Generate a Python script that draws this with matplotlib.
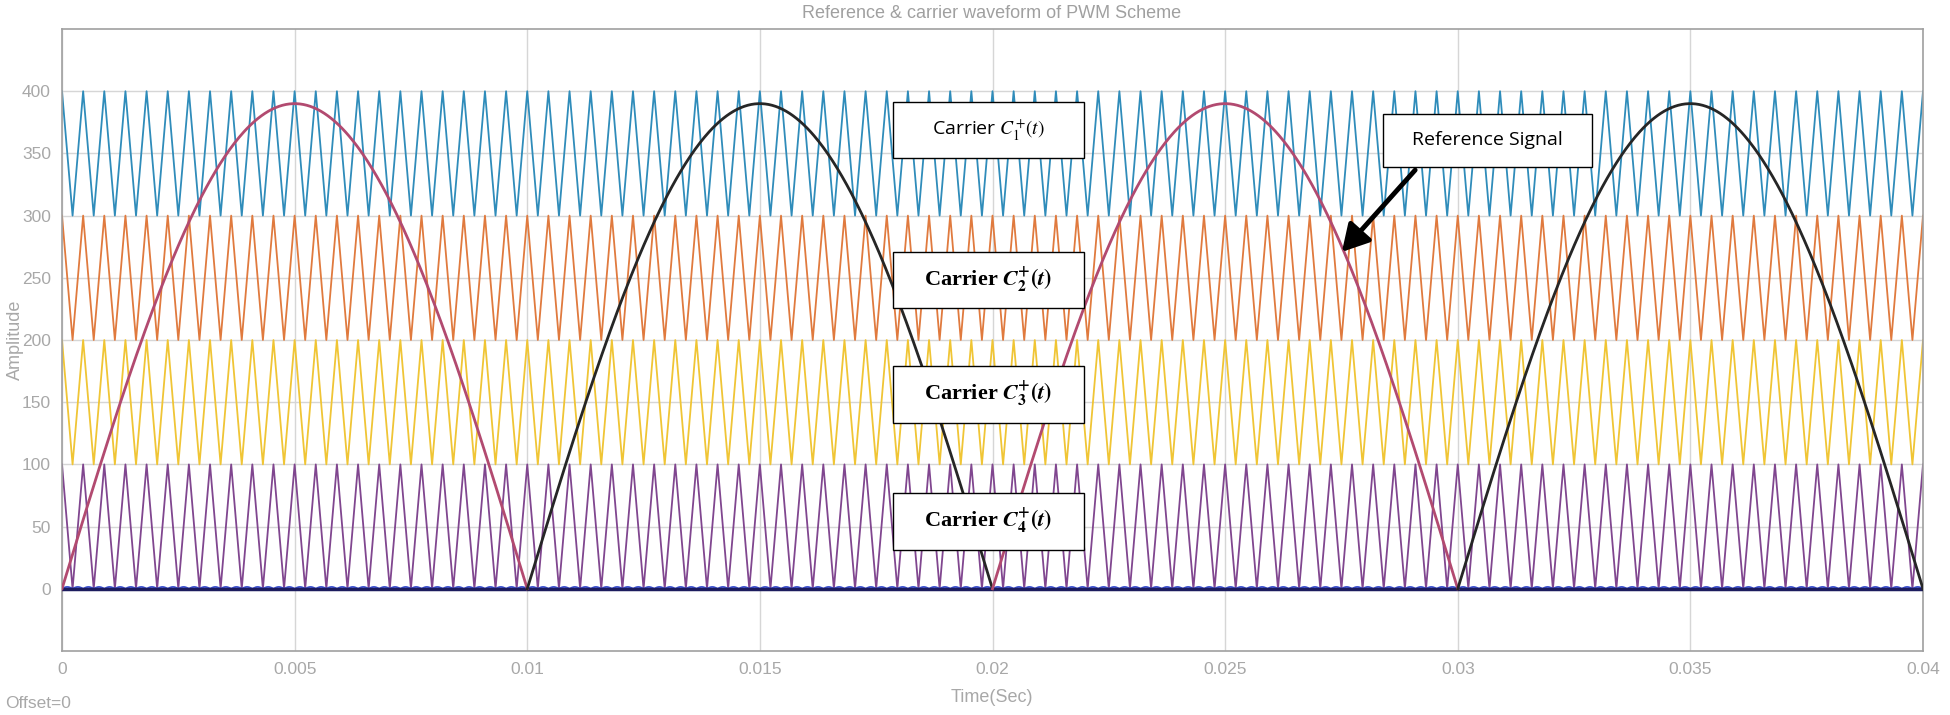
import numpy as np
import matplotlib
matplotlib.use("Agg")
import matplotlib.pyplot as plt
from matplotlib.patches import Rectangle, FancyArrowPatch

plt.rcParams["mathtext.fontset"] = "stix"
plt.rcParams["font.family"] = ["Liberation Sans", "DejaVu Sans"]

# ---- data ----
carrier_offsets = [300, 200, 100, 0]          # C1..C4 lower level
carrier_amplitude = 100
carrier_freq = 2200                            # Hz (11 periods per 5 ms)
carrier_colors = ["#2f8cba", "#e07a3e", "#f0c535", "#80468f"]
ref_peak = 390
ref_freq = 50                                  # Hz
ref_half_colors = ["#b24a70", "#262626", "#b24a70", "#262626"]
t_end = 0.04
xticks = [0, 0.005, 0.01, 0.015, 0.02, 0.025, 0.03, 0.035, 0.04]
xticklabels = ["0", "0.005", "0.01", "0.015", "0.02", "0.025", "0.03", "0.035", "0.04"]
yticks = [0, 50, 100, 150, 200, 250, 300, 350, 400]
ripple_amp = 1.5

W, H = 1950, 715
fig = plt.figure(figsize=(W / 100, H / 100), dpi=100)
L, R, T, B = 62, 1923, 29, 651
ax = fig.add_axes([L / W, 1 - B / H, (R - L) / W, (B - T) / H])

# carriers: triangle vertices every half period, peaks at t = k/f
half = 1.0 / carrier_freq / 2
n_half = int(round(t_end / half))
tv = np.arange(n_half + 1) * half
for off, col in zip(carrier_offsets, carrier_colors):
    vals = np.where(np.arange(n_half + 1) % 2 == 0, off + carrier_amplitude, off)
    ax.plot(tv, vals, color=col, lw=1.3, zorder=2)

# zero-level lines
ts = np.linspace(0, t_end, 8000)
ax.plot(ts, ripple_amp * np.abs(np.sin(2 * np.pi * carrier_freq * ts)), color="#3a4fd0", lw=1.3, zorder=3)
ax.plot([0, t_end], [0, 0], color="#1c1c5e", lw=2.5, zorder=3)

# reference: rectified sine, alternating colour per half cycle
hc = 1.0 / ref_freq / 2
for i, col in enumerate(ref_half_colors):
    tt = np.linspace(i * hc, (i + 1) * hc, 400)
    ax.plot(tt, np.abs(ref_peak * np.sin(2 * np.pi * ref_freq * tt)), color=col, lw=2.0, zorder=4)

ax.set_xlim(0, t_end)
ax.set_ylim(-50, 450)
ax.set_xticks(xticks)
ax.set_xticklabels(xticklabels)
ax.set_yticks(yticks)
ax.grid(True, color="#d6d6d6", lw=1.0)
ax.set_axisbelow(True)
ax.tick_params(length=0, labelcolor="#a8a8a8", labelsize=12.5, pad=8)
for s in ax.spines.values():
    s.set_color("#a0a0a0")
    s.set_linewidth(1.2)

fig.text(992 / W, 1 - 14 / H, "Reference & carrier waveform of PWM Scheme", ha="center", va="center",
         color="#a0a0a0", fontsize=13)
fig.text(992 / W, 1 - 698 / H, "Time(Sec)", ha="center", va="center", color="#a8a8a8", fontsize=13)
fig.text(15 / W, 1 - 340 / H, "Amplitude", ha="center", va="center", rotation=90, color="#a8a8a8", fontsize=13)
fig.text(5 / W, 1 - 703 / H, "Offset=0", ha="left", va="center", color="#a8a8a8", fontsize=12.5)

def box(x0, y0, x1, y1):
    fig.add_artist(Rectangle((x0 / W, 1 - y1 / H), (x1 - x0) / W, (y1 - y0) / H,
                             transform=fig.transFigure, facecolor="white", edgecolor="black",
                             lw=1.0, zorder=10))

def label(x, y, s, **kw):
    fig.text(x / W, 1 - y / H, s, ha="center", va="center", zorder=11, **kw)

box(893, 102, 1084, 158)
label(988, 130, r"Carrier $\mathit{C}_1^{+}(\mathit{t})$", family="Open Sans", fontsize=14)
boxes_bold = [(252, 308, "2"), (366, 423, "3"), (493, 550, "4")]
for y0, y1, k in boxes_bold:
    box(893, y0, 1084, y1)
    label(988, (y0 + y1) / 2, r"Carrier $\mathbfit{C}_{\mathbf{%s}}^{\mathbf{+}}\mathbf{(}\mathbfit{t}\mathbf{)}$" % k,
          family="Liberation Serif", fontweight="bold", fontsize=16)

box(1383, 114, 1592, 167)
label(1487, 140, "Reference Signal", family="Open Sans", fontsize=14)
arr = FancyArrowPatch((1417 / W, 1 - 168 / H), (1340 / W, 1 - 254 / H), transform=fig.transFigure,
                      arrowstyle="-|>,head_length=16,head_width=9", color="black", lw=3.5,
                      mutation_scale=1, zorder=12)
fig.add_artist(arr)

fig.savefig("out.png", dpi=100)
